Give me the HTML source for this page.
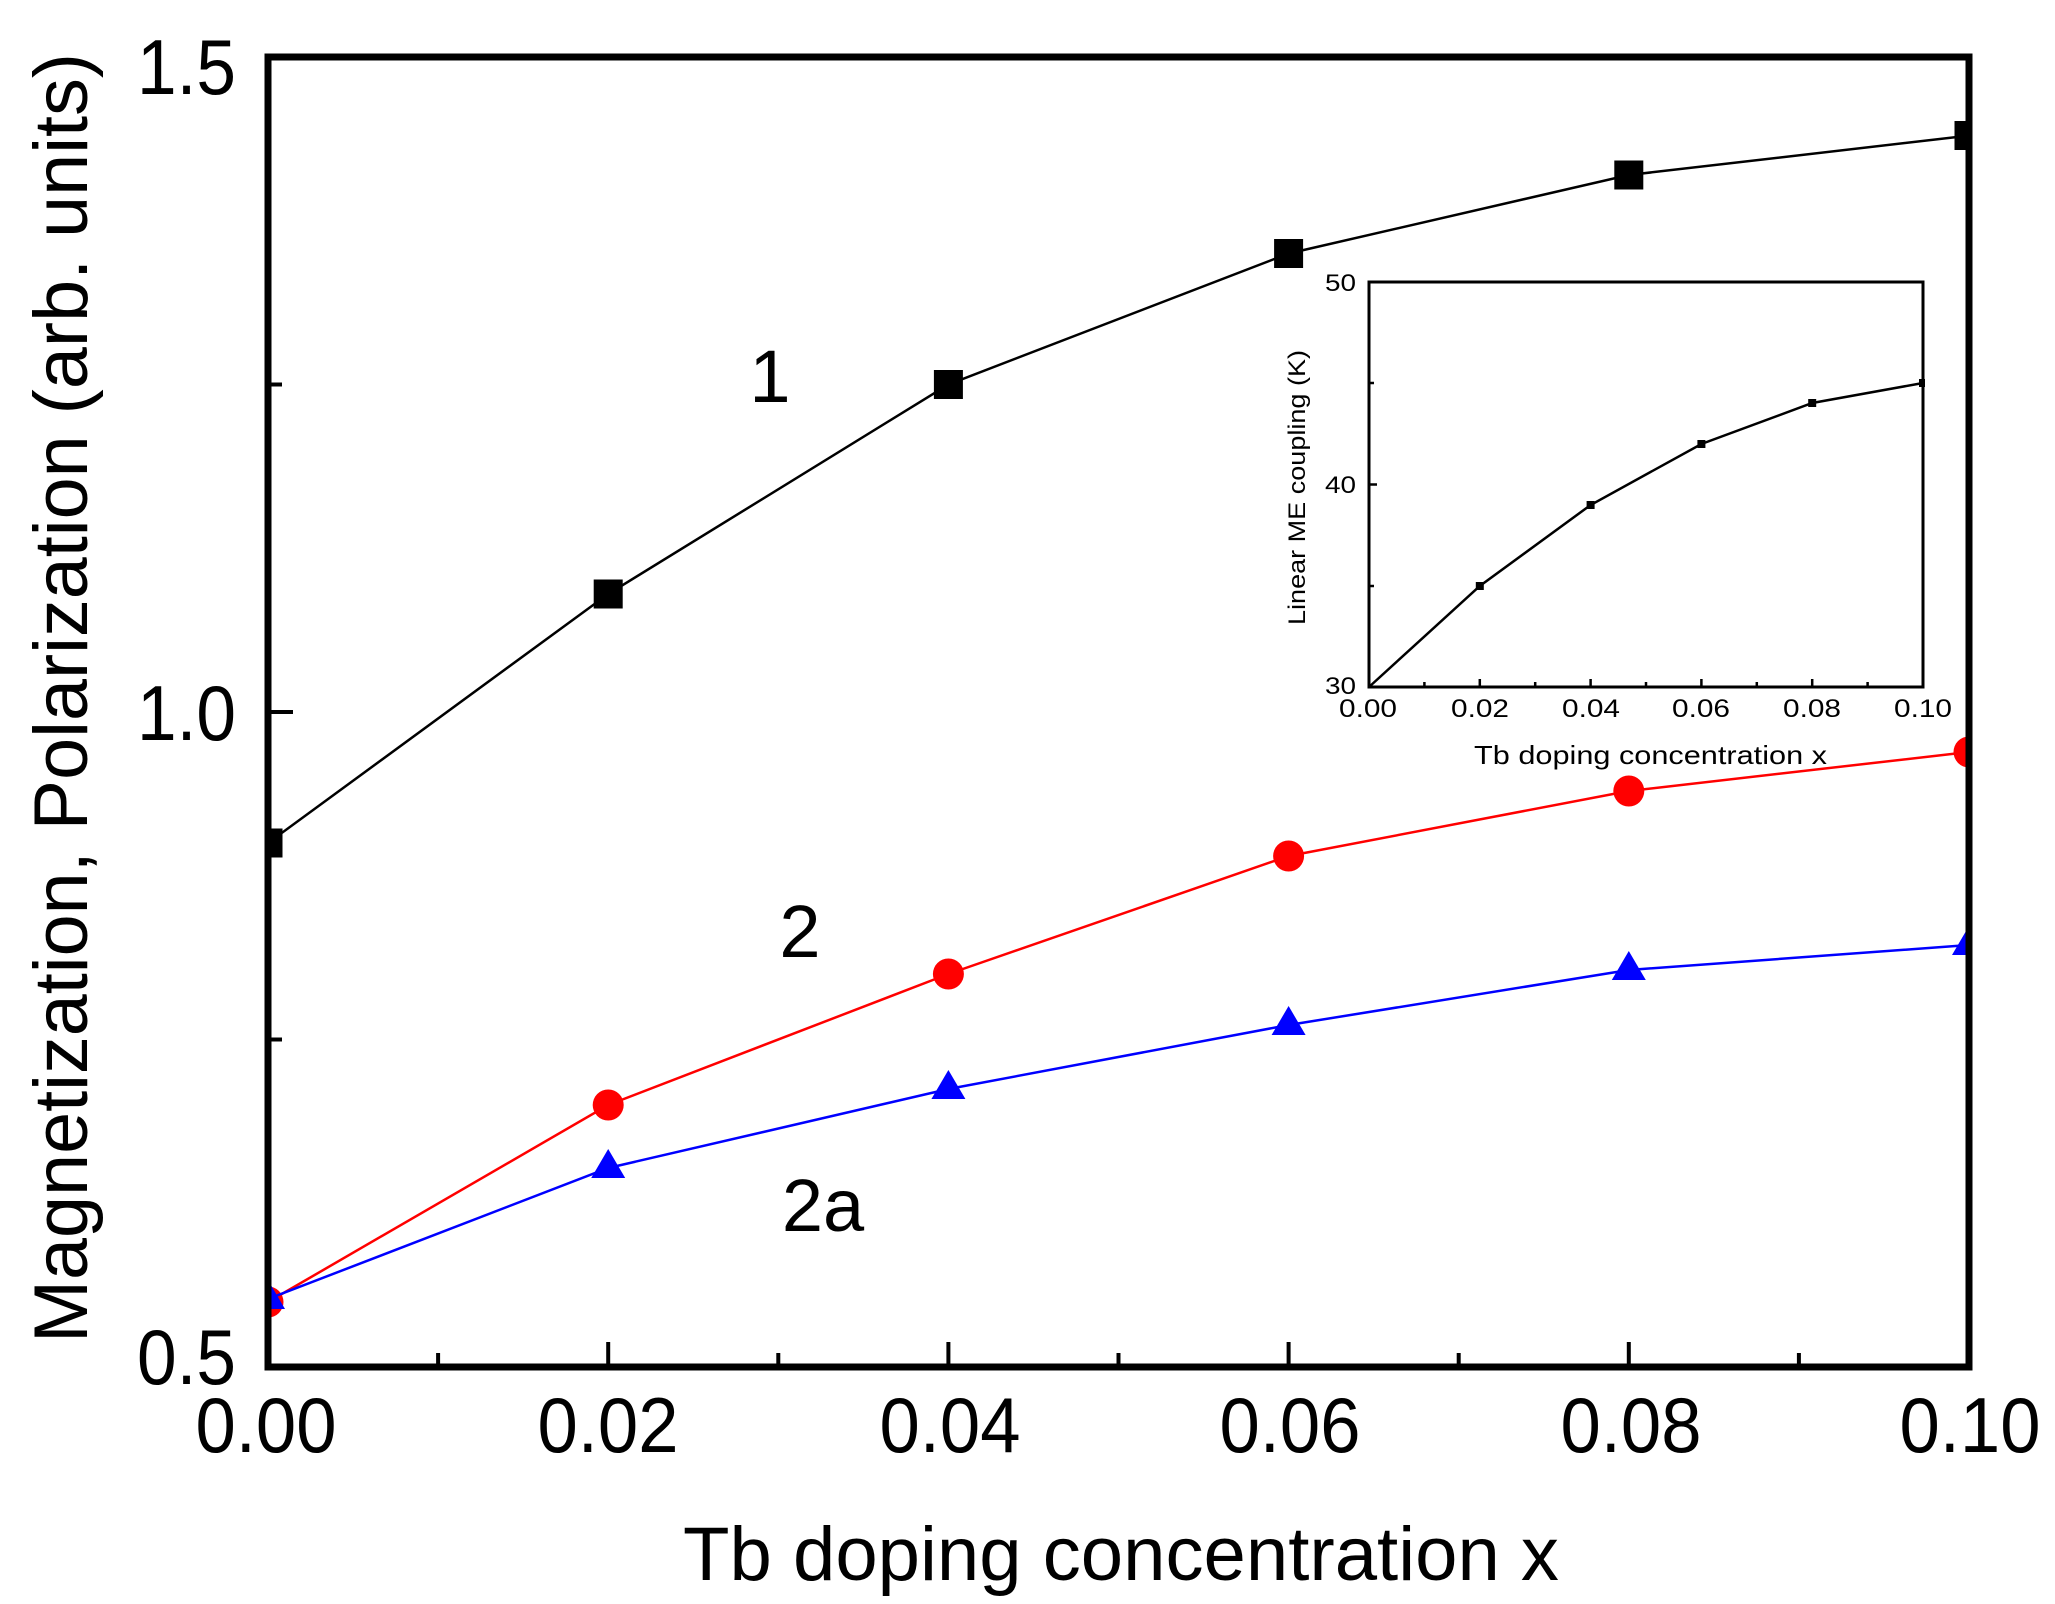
<!DOCTYPE html>
<html><head><meta charset="utf-8"><style>
html,body{margin:0;padding:0;background:#fff;}
svg{display:block;}
text{font-family:"Liberation Sans",Arial,sans-serif;fill:#000;}
</style></head><body>
<svg width="2055" height="1604" viewBox="0 0 2055 1604" xmlns="http://www.w3.org/2000/svg">
<defs><clipPath id="c"><rect x="268" y="57" width="1701" height="1310"/></clipPath></defs>
<rect width="2055" height="1604" fill="#fff"/>

<g clip-path="url(#c)">
<polyline fill="none" stroke="#000" stroke-width="2.5" points="268,843 608.2,594 948.4,384.5 1288.6,253.5 1628.8,175 1969,135.6"/>
<g fill="#000">
<rect x="253.5" y="828.5" width="29" height="29"/><rect x="593.7" y="579.5" width="29" height="29"/>
<rect x="933.9" y="370" width="29" height="29"/><rect x="1274.1" y="239" width="29" height="29"/>
<rect x="1614.3" y="160.5" width="29" height="29"/><rect x="1954.5" y="121" width="29" height="29"/>
</g>
<polyline fill="none" stroke="#f00" stroke-width="2.5" points="268,1302 608.2,1105 948.4,974 1288.6,856 1628.8,791 1969,752"/>
<g fill="#f00">
<circle cx="268" cy="1302" r="15.5"/><circle cx="608.2" cy="1105" r="15.5"/><circle cx="948.4" cy="974" r="15.5"/>
<circle cx="1288.6" cy="856" r="15.5"/><circle cx="1628.8" cy="791" r="15.5"/><circle cx="1969" cy="752" r="15.5"/>
</g>
<polyline fill="none" stroke="#00f" stroke-width="2.5" points="268,1299 608.2,1168 948.4,1089 1288.6,1025 1628.8,970 1969,945"/>
<g fill="#00f">
<polygon points="268,1280 285,1309 251,1309"/><polygon points="608.2,1149 625.2,1178 591.2,1178"/>
<polygon points="948.4,1070 965.4,1099 931.4,1099"/><polygon points="1288.6,1006 1305.6,1035 1271.6,1035"/>
<polygon points="1628.8,951 1645.8,980 1611.8,980"/><polygon points="1969,926 1986,955 1952,955"/>
</g>
</g>

<rect x="268" y="57" width="1701" height="1310" fill="none" stroke="#000" stroke-width="7"/>
<g stroke="#000" stroke-width="4">
<line x1="608.2" y1="1367" x2="608.2" y2="1342"/><line x1="948.4" y1="1367" x2="948.4" y2="1342"/>
<line x1="1288.6" y1="1367" x2="1288.6" y2="1342"/><line x1="1628.8" y1="1367" x2="1628.8" y2="1342"/>
<line x1="438.1" y1="1367" x2="438.1" y2="1353"/><line x1="778.3" y1="1367" x2="778.3" y2="1353"/>
<line x1="1118.5" y1="1367" x2="1118.5" y2="1353"/><line x1="1458.7" y1="1367" x2="1458.7" y2="1353"/>
<line x1="1798.9" y1="1367" x2="1798.9" y2="1353"/>
<line x1="268" y1="712" x2="293" y2="712"/>
<line x1="268" y1="1039.5" x2="282" y2="1039.5"/><line x1="268" y1="384.5" x2="282" y2="384.5"/>
</g>
<g font-size="78" text-anchor="end">
<text x="236" y="1384" textLength="99" lengthAdjust="spacingAndGlyphs">0.5</text>
<text x="236" y="740" textLength="99" lengthAdjust="spacingAndGlyphs">1.0</text>
<text x="236" y="94" textLength="99" lengthAdjust="spacingAndGlyphs">1.5</text>
</g>
<g font-size="78" text-anchor="middle">
<text x="266" y="1452" textLength="141" lengthAdjust="spacingAndGlyphs">0.00</text>
<text x="608" y="1452" textLength="141" lengthAdjust="spacingAndGlyphs">0.02</text>
<text x="950" y="1452" textLength="141" lengthAdjust="spacingAndGlyphs">0.04</text>
<text x="1290" y="1452" textLength="141" lengthAdjust="spacingAndGlyphs">0.06</text>
<text x="1631" y="1452" textLength="141" lengthAdjust="spacingAndGlyphs">0.08</text>
<text x="1970" y="1452" textLength="141" lengthAdjust="spacingAndGlyphs">0.10</text>
</g>
<text x="683" y="1580" font-size="76" textLength="876" lengthAdjust="spacingAndGlyphs">Tb doping concentration x</text>
<text transform="translate(87,1343) rotate(-90)" font-size="76" textLength="1290" lengthAdjust="spacingAndGlyphs">Magnetization, Polarization (arb. units)</text>

<g font-size="74" text-anchor="middle">
<text x="770" y="402">1</text>
<text x="800" y="957">2</text>
<text x="823" y="1231">2a</text>
</g>

<rect x="1369" y="282" width="554" height="405" fill="#fff" stroke="#000" stroke-width="3"/>
<g stroke="#000" stroke-width="2.5">
<line x1="1479.8" y1="687" x2="1479.8" y2="679"/><line x1="1590.6" y1="687" x2="1590.6" y2="679"/>
<line x1="1701.4" y1="687" x2="1701.4" y2="679"/><line x1="1812.2" y1="687" x2="1812.2" y2="679"/>
<line x1="1424.4" y1="687" x2="1424.4" y2="682"/><line x1="1535.2" y1="687" x2="1535.2" y2="682"/>
<line x1="1646" y1="687" x2="1646" y2="682"/><line x1="1756.8" y1="687" x2="1756.8" y2="682"/>
<line x1="1867.6" y1="687" x2="1867.6" y2="682"/>
<line x1="1369" y1="484.5" x2="1377" y2="484.5"/>
<line x1="1369" y1="586" x2="1374" y2="586"/><line x1="1369" y1="383" x2="1374" y2="383"/>
</g>
<polyline fill="none" stroke="#000" stroke-width="2.5" points="1369,687 1479.8,586 1590.6,505 1701.4,444 1812.2,403 1923,383"/>
<g fill="#000">
<rect x="1475.8" y="582" width="8" height="8"/><rect x="1586.6" y="501" width="8" height="8"/>
<rect x="1697.4" y="440" width="8" height="8"/><rect x="1808.2" y="399" width="8" height="8"/>
<rect x="1919" y="379" width="6" height="8"/>
</g>
<g font-size="24" text-anchor="end">
<text x="1356" y="291" textLength="31" lengthAdjust="spacingAndGlyphs">50</text>
<text x="1356" y="493" textLength="31" lengthAdjust="spacingAndGlyphs">40</text>
<text x="1356" y="694" textLength="31" lengthAdjust="spacingAndGlyphs">30</text>
</g>
<g font-size="25" text-anchor="middle">
<text x="1368" y="717" textLength="58" lengthAdjust="spacingAndGlyphs">0.00</text>
<text x="1480" y="717" textLength="58" lengthAdjust="spacingAndGlyphs">0.02</text>
<text x="1591" y="717" textLength="58" lengthAdjust="spacingAndGlyphs">0.04</text>
<text x="1701" y="717" textLength="58" lengthAdjust="spacingAndGlyphs">0.06</text>
<text x="1812" y="717" textLength="58" lengthAdjust="spacingAndGlyphs">0.08</text>
<text x="1923" y="717" textLength="58" lengthAdjust="spacingAndGlyphs">0.10</text>
</g>
<text x="1474" y="764" font-size="26" textLength="353" lengthAdjust="spacingAndGlyphs">Tb doping concentration x</text>
<text transform="translate(1305,625) rotate(-90)" font-size="24" textLength="275" lengthAdjust="spacingAndGlyphs">Linear ME coupling (K)</text>
</svg>
</body></html>
